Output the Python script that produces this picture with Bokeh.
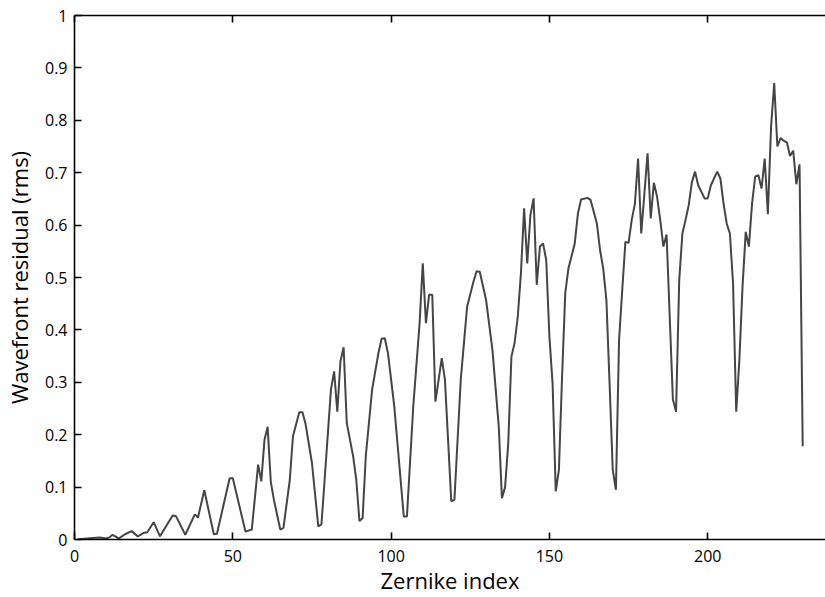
from bokeh.plotting import figure
from bokeh.models import Range1d, FixedTicker, LinearAxis
from bokeh.embed import file_html
from bokeh.resources import INLINE

zernike_index = [1, 2, 4, 6, 8, 10, 11, 12, 14, 16, 18, 20, 22, 23, 25, 27, 31, 32, 35, 38,
                 39, 41, 44, 45, 49, 50, 54, 56, 58, 59, 60, 61, 62, 63, 65, 66, 68, 69, 71, 72,
                 73, 75, 77, 78, 79, 81, 82, 83, 84, 85, 86, 88, 89, 90, 91, 92, 94, 96, 97, 98,
                 99, 101, 104, 105, 107, 109, 110, 111, 112, 113, 114, 116, 117, 119, 120, 122, 124, 126, 127, 128,
                 130, 132, 134, 135, 136, 137, 138, 139, 140, 141, 142, 143, 144, 145, 146, 147, 148, 149, 150, 151,
                 152, 153, 154, 155, 156, 158, 159, 160, 162, 163, 165, 166, 167, 168, 169, 170, 171, 172, 173, 174,
                 175, 176, 177, 178, 179, 180, 181, 182, 183, 184, 185, 186, 187, 188, 189, 190, 191, 192, 193, 194,
                 195, 196, 197, 199, 200, 201, 203, 204, 205, 206, 207, 208, 209, 210, 211, 212, 213, 214, 215, 216,
                 217, 218, 219, 220, 221, 222, 223, 224, 225, 226, 227, 228, 229, 230]

residual_rms = [0.000, 0.001, 0.002, 0.003, 0.004, 0.002, 0.004, 0.009, 0.002, 0.010, 0.016, 0.006, 0.013, 0.014, 0.033, 0.006, 0.046, 0.045, 0.009, 0.048,
                0.042, 0.094, 0.010, 0.011, 0.117, 0.117, 0.015, 0.019, 0.143, 0.111, 0.190, 0.215, 0.110, 0.075, 0.019, 0.022, 0.114, 0.197, 0.243, 0.243,
                0.220, 0.146, 0.025, 0.029, 0.114, 0.286, 0.321, 0.244, 0.340, 0.367, 0.222, 0.159, 0.114, 0.035, 0.041, 0.159, 0.286, 0.356, 0.383, 0.384,
                0.356, 0.254, 0.044, 0.044, 0.254, 0.413, 0.527, 0.413, 0.467, 0.467, 0.263, 0.346, 0.305, 0.073, 0.076, 0.305, 0.444, 0.492, 0.512, 0.511,
                0.457, 0.362, 0.216, 0.079, 0.100, 0.184, 0.349, 0.375, 0.425, 0.508, 0.632, 0.527, 0.619, 0.651, 0.486, 0.559, 0.565, 0.533, 0.387, 0.298,
                0.092, 0.133, 0.311, 0.470, 0.517, 0.565, 0.622, 0.649, 0.652, 0.648, 0.603, 0.552, 0.517, 0.457, 0.298, 0.133, 0.095, 0.381, 0.476, 0.568,
                0.566, 0.610, 0.641, 0.727, 0.584, 0.660, 0.737, 0.613, 0.681, 0.654, 0.610, 0.559, 0.582, 0.425, 0.267, 0.244, 0.495, 0.584, 0.610, 0.638,
                0.682, 0.702, 0.676, 0.651, 0.651, 0.676, 0.702, 0.689, 0.641, 0.603, 0.584, 0.489, 0.244, 0.343, 0.483, 0.587, 0.559, 0.641, 0.693, 0.695,
                0.670, 0.727, 0.621, 0.787, 0.871, 0.750, 0.766, 0.761, 0.758, 0.732, 0.742, 0.678, 0.716, 0.178]

x_ticks = [0, 50, 100, 150, 200]
y_ticks = [0, 0.1, 0.2, 0.3, 0.4, 0.5, 0.6, 0.7, 0.8, 0.9, 1]
y_tick_labels = {0: "0", 1: "1"}

FONT = "Open Sans"

p = figure(width=825, height=597, output_backend="svg", toolbar_location=None,
           x_range=Range1d(0, 237.2), y_range=Range1d(0, 1),
           min_border_left=74, min_border_right=0, min_border_top=15, min_border_bottom=58)
p.outline_line_color = None
p.grid.visible = False
p.background_fill_color = "white"
p.border_fill_color = "white"

p.line(zernike_index, residual_rms, line_color="#454545", line_width=2)

for ax in (p.xaxis[0], p.yaxis[0]):
    ax.axis_line_color = "black"
    ax.axis_line_width = 1.6
    ax.major_tick_line_color = "black"
    ax.major_tick_line_width = 1.6
    ax.major_tick_in = 7
    ax.major_tick_out = 0
    ax.minor_tick_line_color = None
    ax.major_label_text_font = FONT
    ax.major_label_text_font_size = "16px"
    ax.major_label_text_color = "black"
    ax.axis_label_text_font = FONT
    ax.axis_label_text_font_size = "22px"
    ax.axis_label_text_font_style = "normal"
    ax.axis_label_text_color = "black"

p.xaxis.ticker = FixedTicker(ticks=x_ticks)
p.yaxis.ticker = FixedTicker(ticks=y_ticks)
p.yaxis.major_label_overrides = y_tick_labels
p.xaxis.axis_label = "Zernike index"
p.yaxis.axis_label = "Wavefront residual (rms)"
p.xaxis.major_label_standoff = 10
p.xaxis.axis_label_standoff = 0
p.yaxis.major_label_standoff = 7
p.yaxis.axis_label_standoff = 8

top = LinearAxis(ticker=FixedTicker(ticks=x_ticks))
top.axis_line_color = "black"
top.axis_line_width = 1.6
top.major_tick_line_color = "black"
top.major_tick_line_width = 1.6
top.major_tick_in = 7
top.major_tick_out = 0
top.minor_tick_line_color = None
top.major_label_text_font_size = "0px"
top.major_label_standoff = 0
top.major_label_text_color = None
p.add_layout(top, "above")

open("out.html", "w").write(file_html(p, INLINE))
